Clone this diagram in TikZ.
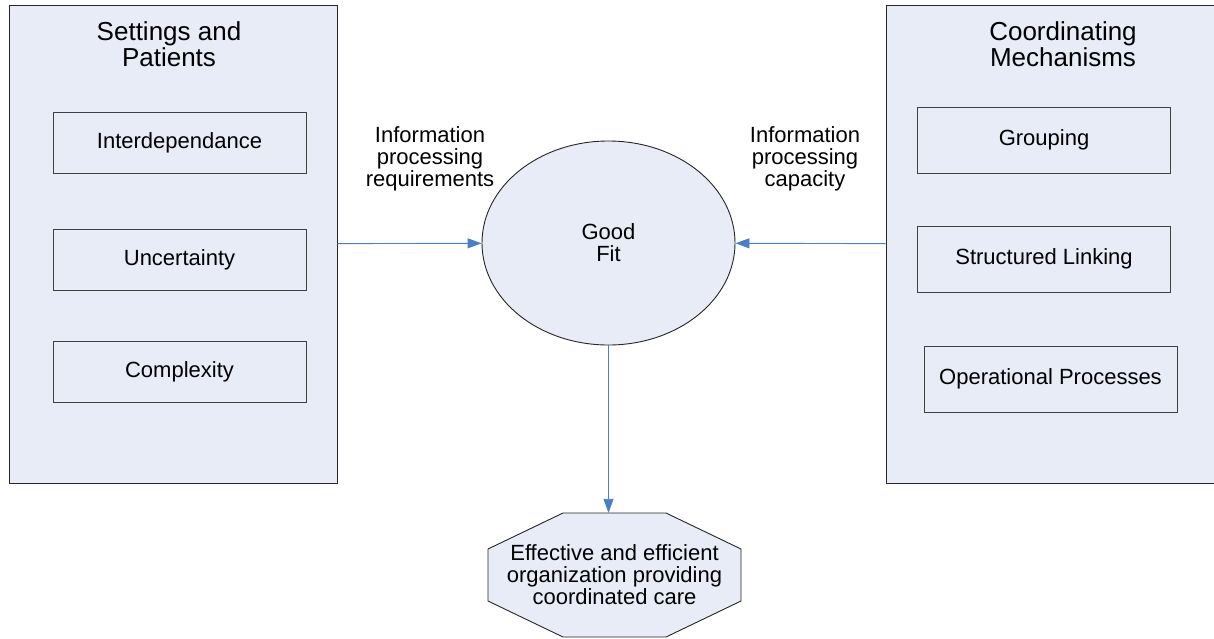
\documentclass[tikz,border=0pt]{standalone}
\usepackage{fontspec}
\setmainfont{Liberation Sans}
\usetikzlibrary{positioning,shapes.geometric,calc,arrows.meta}
\definecolor{panelfill}{HTML}{E7ECF7}
\definecolor{flowblue}{HTML}{4A7EC5}

\begin{document}
\begin{tikzpicture}[x=1pt, y=-1pt,
    every node/.style={inner sep=0pt, align=center, font=\fontsize{22}{22}\selectfont},
    panel/.style={rectangle, draw=black!85, line width=0.9pt, fill=panelfill, minimum width=330pt, minimum height=478pt},
    item/.style={rectangle, draw=black!75, line width=0.9pt, minimum width=253pt},
    heading/.style={font=\fontsize{26}{26}\selectfont},
    flow/.style={draw=flowblue, line width=0.9pt, -{Triangle[length=14pt,width=10pt]}}]
        \useasboundingbox[fill=white] (0,0) rectangle (1214,638);
        % left panel
        \node[panel, minimum width=328pt] (setting) at (173,244) {};
        \node[heading] (settitle) at (169,44) {Settings and\\Patients};
        \node[item, minimum height=61pt] (interdep) at (179.5,142.5) {Interdependance};
        \node[item, minimum height=61pt] (uncert) at (179.5,259.5) {Uncertainty};
        \node[item, minimum height=61pt] (complex) at (179.5,371.5) {Complexity};
        % right panel
        \node[panel] (coord) at (1051,244) {};
        \node[heading] (coordtitle) at (1063,44) {Coordinating\\Mechanisms};
        \node[item, minimum height=66pt] (grouping) at (1044,140) {Grouping};
        \node[item, minimum height=66pt] (linking) at (1044,259) {Structured Linking};
        \node[item, minimum height=66pt] (oper) at (1050.5,379) {Operational Processes};
        % middle
        \node[ellipse, draw=black!85, line width=0.9pt, fill=panelfill, minimum width=253pt, minimum height=204pt] (fit) at (608.5,243) {Good\\Fit};
        \node (req) at (430,159) {Information\\processing\\requirements};
        \node (cap) at (805,159) {Information\\processing\\capacity};
        % octagon outcome
        \coordinate (carec) at (614.5,575);
        \draw[draw=black!85, line width=0.9pt, fill=panelfill]
            ($(carec)+(-51.5,-62)$) -- ($(carec)+(51.5,-62)$) -- ($(carec)+(126.5,-26)$) -- ($(carec)+(126.5,26)$)
            -- ($(carec)+(51.5,62)$) -- ($(carec)+(-51.5,62)$) -- ($(carec)+(-126.5,26)$) -- ($(carec)+(-126.5,-26)$) -- cycle;
        \node[minimum width=253pt, minimum height=124pt] (care) at (carec)
            {Effective and efficient\\organization providing\\coordinated care};
        \draw[flow] (setting) -- (fit);
        \draw[flow] (coord) -- (fit);
        \draw[flow] (fit) -- (fit |- care.north);
    \end{tikzpicture}
\end{document}
